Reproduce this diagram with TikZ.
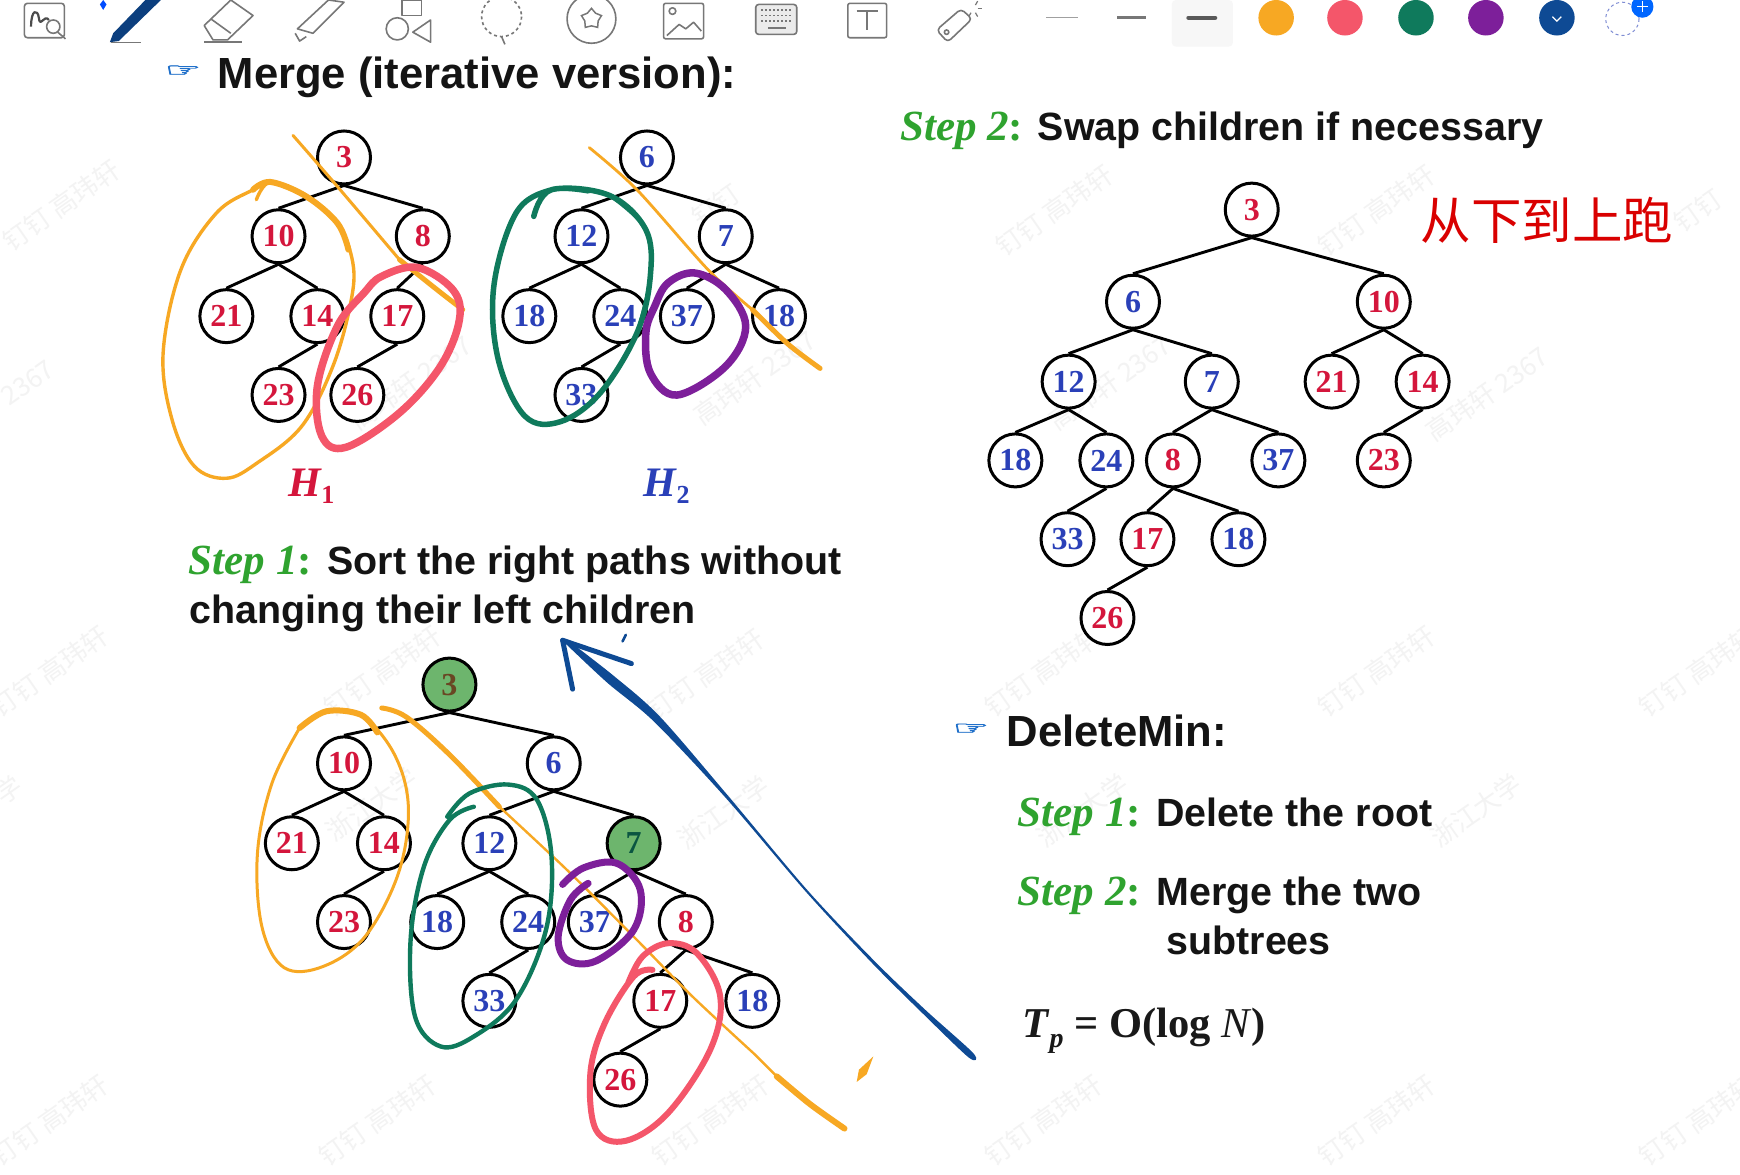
\documentclass[tikz,border=0pt]{standalone}
\usepackage{fontspec}
\usetikzlibrary{shapes.geometric}
\setmainfont{Liberation Sans}
\newfontfamily\ser{Liberation Serif}
\newfontfamily\cjk{Noto Sans CJK SC}
\newfontfamily\dejavu[FakeBold=2.5]{DejaVu Sans}
\definecolor{numred}{HTML}{D4163C}
\definecolor{numblue}{HTML}{2A40B8}
\definecolor{stepgreen}{HTML}{2FA32F}
\definecolor{inkorange}{HTML}{F7A823}
\definecolor{inkred}{HTML}{F4566A}
\definecolor{inkgreen}{HTML}{0F7A5C}
\definecolor{inkpurple}{HTML}{7D1F9A}
\definecolor{inkblue}{HTML}{0E4A94}
\definecolor{nodegreen}{HTML}{6DB56D}
\definecolor{iconc}{HTML}{777777}
\definecolor{wm}{HTML}{F3F3F3}
\newcommand{\stp}[1]{{\color{stepgreen}\fontsize{43}{43}\selectfont\ser\bfseries\itshape Step #1\upshape:}}
\tikzset{
  hn/.style={circle,draw=black,fill=white,yshift=-1pt,line width=3pt,minimum size=53pt,inner sep=0pt,font=\fontsize{32}{32}\selectfont\ser\bfseries},
  rn/.style={hn,text=numred},
  bn/.style={hn,text=numblue},
  gn/.style={hn,fill=nodegreen},
  edge/.style={line width=2.9pt,black},
  body/.style={anchor=base west,inner sep=0pt,font=\fontsize{39.4}{39.4}\selectfont\bfseries,text=black!92},
  head/.style={body,font=\fontsize{43.6}{43.6}\selectfont\bfseries},
  stepl/.style={anchor=base west,inner sep=0pt},
  lab/.style={anchor=base west,inner sep=0pt,font=\fontsize{42}{42}\selectfont\ser\bfseries\itshape},
  hand/.style={inner sep=0pt,xscale=1.35,yscale=0.62,text=numblue!75!cyan,font=\fontsize{30}{30}\selectfont\dejavu},
  wmark/.style={inner sep=0pt,rotate=35,text=wm,font=\fontsize{26}{26}\selectfont\cjk},
  ic/.style={draw=iconc,line width=1.6pt,line join=round},
  ink/.style={line cap=round,line join=round},
}
\begin{document}
\begin{tikzpicture}[x=1.1097pt,y=-1.1097pt]
\useasboundingbox (0,0) rectangle (1568,1058);
\fill[white] (0,0) rectangle (1568,1058);
% watermarks
\foreach \x/\y/\t in {55/185/{钉钉 高玮轩},645/185/{钉钉},950/190/{钉钉 高玮轩},1240/190/{钉钉 高玮轩},1530/190/{钉钉},
  25/345/{2367},370/345/{高玮轩 2367},680/340/{高玮轩 2367},1000/345/{高玮轩 2367},1340/355/{高玮轩 2367},
  45/605/{钉钉 高玮轩},345/605/{钉钉 高玮轩},636/608/{钉钉 高玮轩},940/605/{钉钉 高玮轩},1240/605/{钉钉 高玮轩},1530/605/{钉钉 高玮轩},
  8/712/{学},335/725/{浙江大学},652/732/{浙江大学},975/730/{浙江大学},1330/730/{浙江大学},
  45/1010/{钉钉 高玮轩},340/1010/{钉钉 高玮轩},640/1010/{钉钉 高玮轩},940/1010/{钉钉 高玮轩},1240/1010/{钉钉 高玮轩},1530/1010/{钉钉 高玮轩}}
  {\node[wmark] (wm\x\y) at (\x,\y) {\t};}
% toolbar
\draw[ic,rounded corners=3pt] (22,3) rectangle (58,34);
\draw[ic,line width=2.2pt,black!70] (28,24) .. controls (28,8) and (34,8) .. (35,16) .. controls (36,26) and (40,12) .. (44,18);
\draw[ic,fill=white] (48,24) circle (6);
\draw[ic] (52,29) -- (59,35);
\fill[inkblue!85!black] (145,0) -- (131,0) -- (102,30) -- (99,38) -- (107,37) -- cycle;
\fill[blue!70!cyan] (93,0) -- (96,4) -- (93,9) -- (90,4) -- cycle;
\draw[ic,line width=1.3pt] (100,38) -- (127,38);
\draw[ic] (184,23) -- (208,0) -- (228,14) -- (205,36) -- (192,36) -- cycle;
\draw[ic] (190,17) -- (208,30);
\draw[ic] (184,38) -- (218,38);
\draw[ic] (268,26) -- (296,0) -- (310,2) -- (282,30) -- cycle;
\draw[ic] (266,30) -- (270,37) -- (276,33);
\draw[ic] (362,0) rectangle (380,14);
\draw[ic,fill=white] (358,26) circle (10);
\draw[ic] (388,18) -- (372,29) -- (388,38) -- cycle;
\draw[ic,dashed] (452,15) circle (18);
\draw[ic] (452,33) -- (455,40);
\draw[ic] (533,17) circle (22);
\node[star,star points=5,draw=iconc,line width=1.5pt,minimum size=21pt,inner sep=0pt] (iconstar) at (533,17) {};
\draw[ic,rounded corners=2pt] (598,3) rectangle (634,35);
\draw[ic] (606,10) circle (3);
\draw[ic] (601,32) -- (612,22) -- (618,26) -- (625,20) -- (632,28);
\draw[ic,fill=iconc!15,rounded corners=3pt] (681,4) rectangle (718,31);
\foreach \yy in {9,14,19}{\draw[iconc,line width=1.8pt,dash pattern=on 2pt off 2pt] (686,\yy) -- (714,\yy);}
\draw[iconc,line width=1.8pt] (692,25) -- (708,25);
\draw[ic,rounded corners=2pt] (764,3) rectangle (799,34);
\draw[ic,line width=2pt] (772,10) -- (791,10) (781,10) -- (781,27);
\draw[ic,rounded corners=4pt] (844,27) -- (866,8) -- (876,17) -- (854,38) -- cycle;
\draw[ic] (853,29) circle (2);
\foreach \a in {0,60,120,-60}{\draw[iconc,line width=1.2pt] (877,8) ++(\a:4) -- ++(\a:4);}
\draw[iconc!70,line width=1.4pt] (943,16) -- (971,16);
\draw[iconc,line width=2.6pt] (1007,16) -- (1033,16);
\fill[black!3,rounded corners=4pt] (1056,0) rectangle (1111,42);
\draw[black!65,line width=4.4pt,line cap=round] (1071,16) -- (1095,16);
\fill[inkorange] (1150,16) circle (16);
\fill[inkred] (1212,16) circle (16);
\fill[inkgreen] (1276,16) circle (16);
\fill[inkpurple] (1339,16) circle (16);
\fill[inkblue] (1403,16) circle (16);
\draw[white,line width=1.2pt] (1399,15) -- (1403,19) -- (1407,15);
\draw[numblue!60,dashed,line width=1pt] (1462,17) circle (15);
\fill[blue!60!cyan] (1480,6) circle (10);
\draw[white,line width=1.3pt] (1475,6) -- (1485,6) (1480,1) -- (1480,11);
% headings and text
\node[hand] (hand1) at (165,64) {☞};
\node[head] (merge) at (196,80) {Merge (iterative version):};
\node[stepl] (s2) at (811,127) {\stp{2}};
\node[body] (swap) at (935,127) {Swap children if necessary};
\node[inner sep=0pt,anchor=west,text=red!85!black,font=\fontsize{50.5}{50.5}\selectfont\cjk] (cn) at (1280,199) {从下到上跑};
\node[lab,text=numred] (h1) at (260,447) {H\raisebox{-7pt}{\fontsize{26}{26}\selectfont\upshape 1}};
\node[lab,text=numblue] (h2) at (580,447) {H\raisebox{-7pt}{\fontsize{26}{26}\selectfont\upshape 2}};
\node[stepl] (s1) at (170,518) {\stp{1}};
\node[body] (sort1) at (295,518) {Sort the right paths without};
\node[body] (sort2) at (171,562) {changing their left children};
\node[hand] (hand2) at (875,657) {☞};
\node[head] (del) at (907,673) {DeleteMin:};
\node[stepl] (d1) at (917,745) {\stp{1}};
\node[body] (d1t) at (1042,745) {Delete the root};
\node[stepl] (d2) at (917,816) {\stp{2}};
\node[body] (d2t) at (1042,816) {Merge the two};
\node[body] (d3t) at (1051,860) {subtrees};
\node[anchor=base west,inner sep=0pt,text=black!90,font=\fontsize{42.5}{42.5}\selectfont\ser\bfseries] (tp) at (921,935) {\textit{T}\raisebox{-10pt}{\fontsize{28}{28}\selectfont\textit{p}} = O(log {\mdseries\textit{N}})};
% H1
\node[rn] (a3) at (310,141) {3};
\node[rn] (a10) at (251,212) {10};
\node[rn] (a8) at (381,212) {8};
\node[rn] (a21) at (204,284) {21};
\node[rn] (a14) at (286,284) {14};
\node[rn] (a17) at (358,284) {17};
\node[rn] (a23) at (251,355) {23};
\node[rn] (a26) at (322,355) {26};
\foreach \p/\q in {a3/a10,a3/a8,a10/a21,a10/a14,a14/a23,a8/a17,a17/a26}{\draw[edge] (\p.south) -- (\q.north);}
% H2
\node[bn] (b6) at (583,141) {6};
\node[bn] (b12) at (524,212) {12};
\node[bn] (b7) at (654,212) {7};
\node[bn] (b18) at (477,284) {18};
\node[bn] (b24) at (559,284) {24};
\node[bn] (b37) at (619,284) {37};
\node[bn] (b18r) at (702,284) {18};
\node[bn] (b33) at (524,355) {33};
\foreach \p/\q in {b6/b12,b6/b7,b12/b18,b12/b24,b24/b33,b7/b37,b7/b18r}{\draw[edge] (\p.south) -- (\q.north);}
% Step 1 result
\node[gn,text=black!45!brown] (c3) at (405,616) {3};
\node[rn] (c10) at (310,687) {10};
\node[bn] (c6) at (499,687) {6};
\node[rn] (c21) at (263,759) {21};
\node[rn] (c14) at (346,759) {14};
\node[bn] (c12) at (441,759) {12};
\node[gn,text=inkgreen!70!black] (c7) at (571,759) {7};
\node[rn] (c23) at (310,830) {23};
\node[bn] (c18) at (394,830) {18};
\node[bn] (c24) at (476,830) {24};
\node[bn] (c37) at (536,830) {37};
\node[rn] (c8) at (618,830) {8};
\node[bn] (c33) at (441,901) {33};
\node[rn] (c17) at (595,901) {17};
\node[bn] (c18r) at (678,901) {18};
\node[rn] (c26) at (559,972) {26};
\foreach \p/\q in {c3/c10,c3/c6,c10/c21,c10/c14,c14/c23,c6/c12,c6/c7,c12/c18,c12/c24,c24/c33,c7/c37,c7/c8,c8/c17,c8/c18r,c17/c26}{\draw[edge] (\p.south) -- (\q.north);}
% Step 2 result
\node[rn] (e3) at (1128,188) {3};
\node[bn] (e6) at (1021,271) {6};
\node[rn] (e10) at (1247,271) {10};
\node[bn] (e12) at (963,343) {12};
\node[bn] (e7) at (1092,343) {7};
\node[rn] (e21) at (1200,343) {21};
\node[rn] (e14) at (1282,343) {14};
\node[bn] (e18) at (915,414) {18};
\node[bn] (e24) at (997,414) {24};
\node[rn] (e8) at (1057,414) {8};
\node[bn] (e37) at (1152,414) {37};
\node[rn] (e23) at (1247,414) {23};
\node[bn] (e33) at (962,485) {33};
\node[rn] (e17) at (1034,485) {17};
\node[bn] (e18r) at (1116,485) {18};
\node[rn] (e26) at (998,556) {26};
\foreach \p/\q in {e3/e6,e3/e10,e6/e12,e6/e7,e12/e18,e12/e24,e24/e33,e7/e8,e7/e37,e10/e21,e10/e14,e14/e23,e8/e17,e8/e18r,e17/e26}{\draw[edge] (\p.south) -- (\q.north);}
% ink: top left
\draw[ink,inkorange,line width=3.4pt] plot[smooth,tension=0.6] coordinates {(231,180)(244,164)(276,177)(304,201)(318,237)(316,273)(300,330)(272,384)(232,417)(204,431)(175,420)(155,378)(147,318)(163,243)(195,192)(228,171)(244,164)};
\draw[ink,inkorange,line width=6pt] plot[smooth,tension=0.6] coordinates {(228,171)(244,164)(276,177)(304,201)(314,225)};
\draw[ink,inkorange,line width=3pt] plot[smooth] coordinates {(264,122)(304,168)(360,234)};
\draw[ink,inkorange,line width=5pt] plot[smooth] coordinates {(360,234)(395,262)(417,279)};
\draw[ink,inkred,line width=7.5pt] plot[smooth cycle,tension=0.6] coordinates {(328,264)(344,249)(376,241)(408,261)(414,288)(397,330)(360,372)(312,403)(290,393)(286,348)(304,294)};
\draw[ink,inkgreen,line width=5.5pt] plot[smooth,tension=0.6] coordinates {(481,195)(497,171)(549,176)(582,207)(586,249)(574,300)(541,354)(505,380)(473,375)(449,324)(445,258)(465,192)(497,171)(530,172)};
\draw[ink,inkgreen,line width=3pt] plot[smooth,tension=0.6] coordinates {(549,176)(582,207)(586,249)(574,300)};
\draw[ink,inkorange,line width=2.8pt] plot[smooth] coordinates {(531,133)(574,171)(638,243)(678,279)};
\draw[ink,inkorange,line width=5pt] plot[smooth] coordinates {(678,279)(710,310)(739,332)};
\draw[ink,inkpurple,line width=7.5pt] plot[smooth cycle,tension=0.6] coordinates {(590,276)(602,255)(626,246)(654,261)(672,294)(654,330)(610,356)(586,336)(582,300)};
% ink: bottom
\draw[ink,inkorange,line width=3pt] plot[smooth,tension=0.6] coordinates {(270,656)(294,641)(325,644)(355,679)(368,727)(359,787)(329,844)(291,871)(256,872)(236,835)(232,769)(245,706)(270,656)};
\draw[ink,inkorange,line width=6pt] plot[smooth,tension=0.6] coordinates {(270,656)(294,641)(325,644)(340,660)};
\draw[ink,inkorange,line width=5pt] plot[smooth,tension=0.6] coordinates {(344,638)(366,646)(404,679)(450,727)};
\draw[ink,inkorange,line width=2.4pt] plot[smooth] coordinates {(450,727)(511,784)(571,844)(624,898)(680,950)};
\draw[ink,inkorange,line width=6pt] plot[smooth] coordinates {(700,970)(730,995)(761,1017)};
\draw[ink,inkorange,line width=2.4pt] (680,950) -- (700,970);
\fill[ink,inkorange] (787,952) -- (781,968) -- (772,975) -- (774,964) -- cycle;
\draw[ink,inkgreen,line width=4.4pt] plot[smooth,tension=0.6] coordinates {(403,736)(423,715)(458,707)(484,721)(497,772)(492,838)(465,901)(427,934)(397,943)(374,916)(370,847)(382,781)(405,739)(427,727)};
\draw[ink,inkpurple,line width=7pt] plot[smooth,tension=0.6] coordinates {(507,797)(526,782)(556,778)(577,802)(571,838)(537,866)(511,865)(503,844)(514,811)(530,796)};
\draw[ink,inkred,line width=6pt] plot[smooth,tension=0.6] coordinates {(566,886)(579,862)(602,850)(628,859)(649,898)(640,946)(602,1003)(564,1028)(537,1018)(532,967)(545,922)(571,880)(588,874)};
% blue arrow
\fill[inkblue,ink] plot[smooth,tension=0.5] coordinates {(510,575.6)(553,609)(594.5,645.6)(656,717)(727.7,802.3)(788,866)(833.4,909.6)(877,949)(873,953)(830.6,912.4)(786,868)(726.3,803.7)(654,719)(589.5,650.4)(547,615)(508,578.4)} -- cycle;
\draw[ink,inkblue,line width=5pt] (507,577) -- (516,621);
\draw[ink,inkblue,line width=5pt] (507,577) -- (569,598);
\draw[ink,inkblue,line width=2.5pt] (564,572) -- (561,578);
\end{tikzpicture}
\end{document}
